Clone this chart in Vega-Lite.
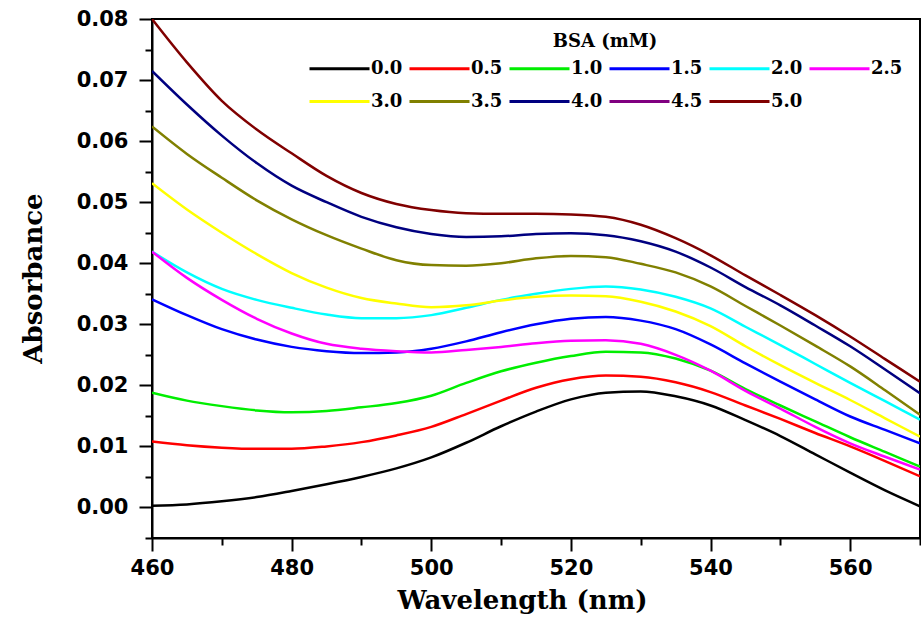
{
"$schema": "https://vega.github.io/schema/vega-lite/v6.json",
"width": 768, "height": 519,
"autosize": "none",
"padding": {"left": 152, "top": 19, "right": 1, "bottom": 90},
"background": "white",
"config": {
 "view": {"stroke": "black", "strokeWidth": 2},
 "axis": {"domainColor": "black", "domainWidth": 2, "tickColor": "black", "tickWidth": 2, "grid": false,
  "labelFont": "DejaVu Sans", "labelFontWeight": "bold", "labelFontSize": 21, "labelColor": "black",
  "titleFont": "DejaVu Serif", "titleFontWeight": "bold", "titleFontSize": 26, "titleColor": "black"}
},
"data": {"values": [
{"c":"0.0","w":460,"a":0.0003},{"c":"0.0","w":465,"a":0.0005},{"c":"0.0","w":470,"a":0.0010},{"c":"0.0","w":475,"a":0.0017},{"c":"0.0","w":480,"a":0.0027},{"c":"0.0","w":485,"a":0.0038},{"c":"0.0","w":490,"a":0.0050},{"c":"0.0","w":495,"a":0.0064},{"c":"0.0","w":500,"a":0.0082},{"c":"0.0","w":505,"a":0.0106},{"c":"0.0","w":510,"a":0.0133},{"c":"0.0","w":515,"a":0.0157},{"c":"0.0","w":520,"a":0.0177},{"c":"0.0","w":525,"a":0.0188},{"c":"0.0","w":530,"a":0.0190},{"c":"0.0","w":535,"a":0.0182},{"c":"0.0","w":540,"a":0.0167},{"c":"0.0","w":545,"a":0.0143},{"c":"0.0","w":550,"a":0.0117},{"c":"0.0","w":555,"a":0.0087},{"c":"0.0","w":560,"a":0.0057},{"c":"0.0","w":565,"a":0.0028},{"c":"0.0","w":570,"a":0.0002},
{"c":"0.5","w":460,"a":0.0108},{"c":"0.5","w":465,"a":0.0102},{"c":"0.5","w":470,"a":0.0098},{"c":"0.5","w":475,"a":0.0096},{"c":"0.5","w":480,"a":0.0096},{"c":"0.5","w":485,"a":0.0100},{"c":"0.5","w":490,"a":0.0107},{"c":"0.5","w":495,"a":0.0118},{"c":"0.5","w":500,"a":0.0132},{"c":"0.5","w":505,"a":0.0153},{"c":"0.5","w":510,"a":0.0175},{"c":"0.5","w":515,"a":0.0196},{"c":"0.5","w":520,"a":0.0210},{"c":"0.5","w":525,"a":0.0216},{"c":"0.5","w":530,"a":0.0214},{"c":"0.5","w":535,"a":0.0205},{"c":"0.5","w":540,"a":0.0189},{"c":"0.5","w":545,"a":0.0167},{"c":"0.5","w":550,"a":0.0145},{"c":"0.5","w":555,"a":0.0122},{"c":"0.5","w":560,"a":0.0100},{"c":"0.5","w":565,"a":0.0076},{"c":"0.5","w":570,"a":0.0051},
{"c":"1.0","w":460,"a":0.0188},{"c":"1.0","w":465,"a":0.0175},{"c":"1.0","w":470,"a":0.0166},{"c":"1.0","w":475,"a":0.0159},{"c":"1.0","w":480,"a":0.0156},{"c":"1.0","w":485,"a":0.0158},{"c":"1.0","w":490,"a":0.0164},{"c":"1.0","w":495,"a":0.0171},{"c":"1.0","w":500,"a":0.0183},{"c":"1.0","w":505,"a":0.0204},{"c":"1.0","w":510,"a":0.0223},{"c":"1.0","w":515,"a":0.0237},{"c":"1.0","w":520,"a":0.0248},{"c":"1.0","w":525,"a":0.0255},{"c":"1.0","w":530,"a":0.0254},{"c":"1.0","w":535,"a":0.0244},{"c":"1.0","w":540,"a":0.0224},{"c":"1.0","w":545,"a":0.0194},{"c":"1.0","w":550,"a":0.0167},{"c":"1.0","w":555,"a":0.0141},{"c":"1.0","w":560,"a":0.0115},{"c":"1.0","w":565,"a":0.0091},{"c":"1.0","w":570,"a":0.0067},
{"c":"1.5","w":460,"a":0.0341},{"c":"1.5","w":465,"a":0.0315},{"c":"1.5","w":470,"a":0.0292},{"c":"1.5","w":475,"a":0.0275},{"c":"1.5","w":480,"a":0.0263},{"c":"1.5","w":485,"a":0.0256},{"c":"1.5","w":490,"a":0.0253},{"c":"1.5","w":495,"a":0.0254},{"c":"1.5","w":500,"a":0.0260},{"c":"1.5","w":505,"a":0.0272},{"c":"1.5","w":510,"a":0.0287},{"c":"1.5","w":515,"a":0.0300},{"c":"1.5","w":520,"a":0.0309},{"c":"1.5","w":525,"a":0.0312},{"c":"1.5","w":530,"a":0.0306},{"c":"1.5","w":535,"a":0.0292},{"c":"1.5","w":540,"a":0.0267},{"c":"1.5","w":545,"a":0.0236},{"c":"1.5","w":550,"a":0.0206},{"c":"1.5","w":555,"a":0.0177},{"c":"1.5","w":560,"a":0.0149},{"c":"1.5","w":565,"a":0.0127},{"c":"1.5","w":570,"a":0.0105},
{"c":"2.0","w":460,"a":0.0419},{"c":"2.0","w":465,"a":0.0385},{"c":"2.0","w":470,"a":0.0358},{"c":"2.0","w":475,"a":0.0340},{"c":"2.0","w":480,"a":0.0327},{"c":"2.0","w":485,"a":0.0316},{"c":"2.0","w":490,"a":0.0310},{"c":"2.0","w":495,"a":0.0310},{"c":"2.0","w":500,"a":0.0315},{"c":"2.0","w":505,"a":0.0327},{"c":"2.0","w":510,"a":0.0340},{"c":"2.0","w":515,"a":0.0350},{"c":"2.0","w":520,"a":0.0358},{"c":"2.0","w":525,"a":0.0362},{"c":"2.0","w":530,"a":0.0357},{"c":"2.0","w":535,"a":0.0345},{"c":"2.0","w":540,"a":0.0326},{"c":"2.0","w":545,"a":0.0296},{"c":"2.0","w":550,"a":0.0266},{"c":"2.0","w":555,"a":0.0235},{"c":"2.0","w":560,"a":0.0204},{"c":"2.0","w":565,"a":0.0174},{"c":"2.0","w":570,"a":0.0144},
{"c":"2.5","w":460,"a":0.0419},{"c":"2.5","w":465,"a":0.0376},{"c":"2.5","w":470,"a":0.0340},{"c":"2.5","w":475,"a":0.0309},{"c":"2.5","w":480,"a":0.0285},{"c":"2.5","w":485,"a":0.0268},{"c":"2.5","w":490,"a":0.0260},{"c":"2.5","w":495,"a":0.0256},{"c":"2.5","w":500,"a":0.0254},{"c":"2.5","w":505,"a":0.0258},{"c":"2.5","w":510,"a":0.0263},{"c":"2.5","w":515,"a":0.0269},{"c":"2.5","w":520,"a":0.0273},{"c":"2.5","w":525,"a":0.0274},{"c":"2.5","w":530,"a":0.0268},{"c":"2.5","w":535,"a":0.0250},{"c":"2.5","w":540,"a":0.0224},{"c":"2.5","w":545,"a":0.0191},{"c":"2.5","w":550,"a":0.0162},{"c":"2.5","w":555,"a":0.0132},{"c":"2.5","w":560,"a":0.0105},{"c":"2.5","w":565,"a":0.0083},{"c":"2.5","w":570,"a":0.0062},
{"c":"3.0","w":460,"a":0.0531},{"c":"3.0","w":465,"a":0.0488},{"c":"3.0","w":470,"a":0.0450},{"c":"3.0","w":475,"a":0.0415},{"c":"3.0","w":480,"a":0.0384},{"c":"3.0","w":485,"a":0.0360},{"c":"3.0","w":490,"a":0.0343},{"c":"3.0","w":495,"a":0.0334},{"c":"3.0","w":500,"a":0.0328},{"c":"3.0","w":505,"a":0.0331},{"c":"3.0","w":510,"a":0.0339},{"c":"3.0","w":515,"a":0.0345},{"c":"3.0","w":520,"a":0.0347},{"c":"3.0","w":525,"a":0.0346},{"c":"3.0","w":530,"a":0.0337},{"c":"3.0","w":535,"a":0.0321},{"c":"3.0","w":540,"a":0.0297},{"c":"3.0","w":545,"a":0.0264},{"c":"3.0","w":550,"a":0.0233},{"c":"3.0","w":555,"a":0.0204},{"c":"3.0","w":560,"a":0.0176},{"c":"3.0","w":565,"a":0.0146},{"c":"3.0","w":570,"a":0.0116},
{"c":"3.5","w":460,"a":0.0624},{"c":"3.5","w":465,"a":0.0579},{"c":"3.5","w":470,"a":0.0540},{"c":"3.5","w":475,"a":0.0503},{"c":"3.5","w":480,"a":0.0472},{"c":"3.5","w":485,"a":0.0446},{"c":"3.5","w":490,"a":0.0424},{"c":"3.5","w":495,"a":0.0405},{"c":"3.5","w":500,"a":0.0397},{"c":"3.5","w":505,"a":0.0396},{"c":"3.5","w":510,"a":0.0400},{"c":"3.5","w":515,"a":0.0408},{"c":"3.5","w":520,"a":0.0412},{"c":"3.5","w":525,"a":0.0410},{"c":"3.5","w":530,"a":0.0399},{"c":"3.5","w":535,"a":0.0385},{"c":"3.5","w":540,"a":0.0362},{"c":"3.5","w":545,"a":0.0330},{"c":"3.5","w":550,"a":0.0298},{"c":"3.5","w":555,"a":0.0265},{"c":"3.5","w":560,"a":0.0231},{"c":"3.5","w":565,"a":0.0192},{"c":"3.5","w":570,"a":0.0152},
{"c":"4.0","w":460,"a":0.0715},{"c":"4.0","w":465,"a":0.0660},{"c":"4.0","w":470,"a":0.0609},{"c":"4.0","w":475,"a":0.0564},{"c":"4.0","w":480,"a":0.0527},{"c":"4.0","w":485,"a":0.0500},{"c":"4.0","w":490,"a":0.0476},{"c":"4.0","w":495,"a":0.0459},{"c":"4.0","w":500,"a":0.0448},{"c":"4.0","w":505,"a":0.0443},{"c":"4.0","w":510,"a":0.0444},{"c":"4.0","w":515,"a":0.0448},{"c":"4.0","w":520,"a":0.0449},{"c":"4.0","w":525,"a":0.0446},{"c":"4.0","w":530,"a":0.0436},{"c":"4.0","w":535,"a":0.0419},{"c":"4.0","w":540,"a":0.0393},{"c":"4.0","w":545,"a":0.0361},{"c":"4.0","w":550,"a":0.0331},{"c":"4.0","w":555,"a":0.0298},{"c":"4.0","w":560,"a":0.0264},{"c":"4.0","w":565,"a":0.0226},{"c":"4.0","w":570,"a":0.0187},
{"c":"5.0","w":460,"a":0.0800},{"c":"5.0","w":465,"a":0.0729},{"c":"5.0","w":470,"a":0.0666},{"c":"5.0","w":475,"a":0.0619},{"c":"5.0","w":480,"a":0.0580},{"c":"5.0","w":485,"a":0.0543},{"c":"5.0","w":490,"a":0.0515},{"c":"5.0","w":495,"a":0.0497},{"c":"5.0","w":500,"a":0.0487},{"c":"5.0","w":505,"a":0.0482},{"c":"5.0","w":510,"a":0.0481},{"c":"5.0","w":515,"a":0.0481},{"c":"5.0","w":520,"a":0.0480},{"c":"5.0","w":525,"a":0.0476},{"c":"5.0","w":530,"a":0.0463},{"c":"5.0","w":535,"a":0.0441},{"c":"5.0","w":540,"a":0.0413},{"c":"5.0","w":545,"a":0.0380},{"c":"5.0","w":550,"a":0.0348},{"c":"5.0","w":555,"a":0.0315},{"c":"5.0","w":560,"a":0.0280},{"c":"5.0","w":565,"a":0.0243},{"c":"5.0","w":570,"a":0.0206}
]},
"mark": {"type": "line", "strokeWidth": 2.5, "interpolate": "monotone", "clip": true},
"encoding": {
 "x": {"field": "w", "type": "quantitative",
  "scale": {"domain": [460, 570], "nice": false, "zero": false},
  "axis": {"title": "Wavelength (nm)", "values": [460,470,480,490,500,510,520,530,540,550,560,570],
   "labelExpr": "datum.value % 20 === 0 ? datum.label : ''",
   "tickSize": {"condition": {"test": "datum.value % 20 === 0", "value": 13}, "value": 7},
   "labelPadding": 6, "labelFlush": false, "labelOverlap": false,
   "titleX": 370, "titleY": 70, "titleAlign": "center", "titleBaseline": "alphabetic"}},
 "y": {"field": "a", "type": "quantitative",
  "scale": {"domain": [-0.005, 0.08], "nice": false, "zero": false},
  "axis": {"title": "Absorbance", "values": [-0.005,0,0.005,0.01,0.015,0.02,0.025,0.03,0.035,0.04,0.045,0.05,0.055,0.06,0.065,0.07,0.075,0.08],
   "labelExpr": "abs(round(datum.value*1000)) % 10 === 0 ? format(datum.value, '.2f') : ''",
   "tickSize": {"condition": {"test": "abs(round(datum.value*1000)) % 10 === 0", "value": 13}, "value": 7},
   "labelPadding": 11, "labelFlush": false, "labelOverlap": false,
   "titleX": -119, "titleY": 259, "titleAngle": 270, "titleAlign": "center", "titleBaseline": "middle"}},
 "color": {"field": "c", "type": "nominal",
  "scale": {"domain": ["0.0","0.5","1.0","1.5","2.0","2.5","3.0","3.5","4.0","4.5","5.0"],
   "range": ["#000000","#ff0000","#00ee00","#0000ff","#00ffff","#ff00ff","#ffff00","#808000","#000080","#800080","#800000"]},
  "legend": {"orient": "none", "legendX": 156, "legendY": 14, "columns": 6, "direction": "horizontal",
   "symbolType": "M-1,0H5", "symbolSize": 400, "symbolStrokeWidth": 3,
   "labelFont": "DejaVu Serif", "labelFontWeight": "bold", "labelFontSize": 18, "labelColor": "black", "labelOffset": 40,
   "columnPadding": 0, "rowPadding": 12, "padding": 0,
   "title": "BSA (mM)", "titleFont": "DejaVu Serif", "titleFontWeight": "bold", "titleFontSize": 18, "titleColor": "black",
   "titleAnchor": "middle", "titlePadding": 6}}
}
}
